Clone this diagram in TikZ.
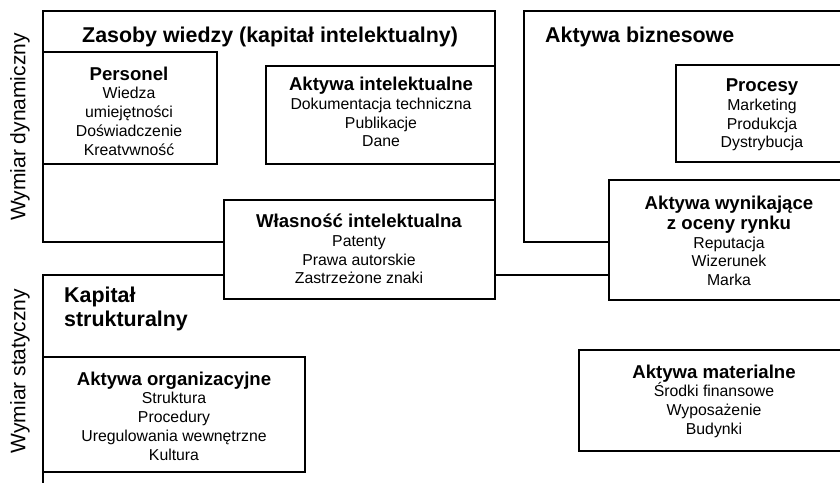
\documentclass[tikz,border=0pt]{standalone}
\usepackage{fontspec}
\setmainfont{Liberation Sans}
\usetikzlibrary{positioning}

\tikzset{
  frame/.style={line width=1.8pt, line join=miter},
  box/.style={frame, fill=white},
  maintitle/.style={font=\fontsize{21.4}{24}\selectfont\bfseries, align=left},
  content/.style={font=\fontsize{15.8}{18.7}\selectfont, align=center, inner sep=0pt},
  side/.style={font=\fontsize{21}{24}\selectfont, rotate=90},
}
\newcommand{\hd}[1]{{\fontsize{18.6}{21}\selectfont\bfseries #1}}

\begin{document}
\begin{tikzpicture}[x=1pt, y=-1pt]
    \useasboundingbox (0,0) rectangle (840,482);
    \clip (0,0) rectangle (840,482);
    % frames
    \draw[frame] (43,11) rectangle (495,242);
    \draw[frame] (524,11) rectangle (860,242);
    \draw[frame] (43,495) -- (43,275) -- (609,275);
    % boxes
    \draw[box] (43,52) rectangle (217,164);
    \draw[box] (266,66) rectangle (495,164);
    \draw[box] (224,200) rectangle (495,299);
    \draw[box] (676,65) rectangle (860,162);
    \draw[box] (609,180) rectangle (860,300);
    \draw[box] (43,357) rectangle (305,472);
    \draw[box] (579,350) rectangle (860,451);
    % titles
    \node[maintitle, anchor=base west, inner sep=0pt] (zasoby) at (82,42) {Zasoby wiedzy (kapitał intelektualny)};
    \node[maintitle, anchor=base west, inner sep=0pt] (biznes) at (545,42) {Aktywa biznesowe};
    \node[maintitle, anchor=north west, inner sep=0pt] (kapital) at (64,287) {Kapitał\\strukturalny};
    \node[side] (dyn) at (20,127) {Wymiar dynamiczny};
    \node[side] (stat) at (20,371) {Wymiar statyczny};
    % contents
    \node[content] (personel) at (129,111) {\hd{Personel}\\Wiedza\\umiejętności\\Doświadczenie\\Kreatvwność};
    \node[content] (intel) at (381,112) {\hd{Aktywa intelektualne}\\Dokumentacja techniczna\\Publikacje\\Dane};
    \node[content] (wlasnosc) at (359,249) {\hd{Własność intelektualna}\\Patenty\\Prawa autorskie\\Zastrzeżone znaki};
    \node[content] (procesy) at (762,115) {\hd{Procesy}\\Marketing\\Produkcja\\Dystrybucja};
    \node[content] (rynek) at (729,241) {\hd{Aktywa wynikające}\\[1pt]\hd{z oceny rynku}\\Reputacja\\Wizerunek\\Marka};
    \node[content] (organiz) at (174,416) {\hd{Aktywa organizacyjne}\\Struktura\\Procedury\\Uregulowania wewnętrzne\\Kultura};
    \node[content] (material) at (714,401) {\hd{Aktywa materialne}\\Środki finansowe\\Wyposażenie\\Budynki};
\end{tikzpicture}
\end{document}
